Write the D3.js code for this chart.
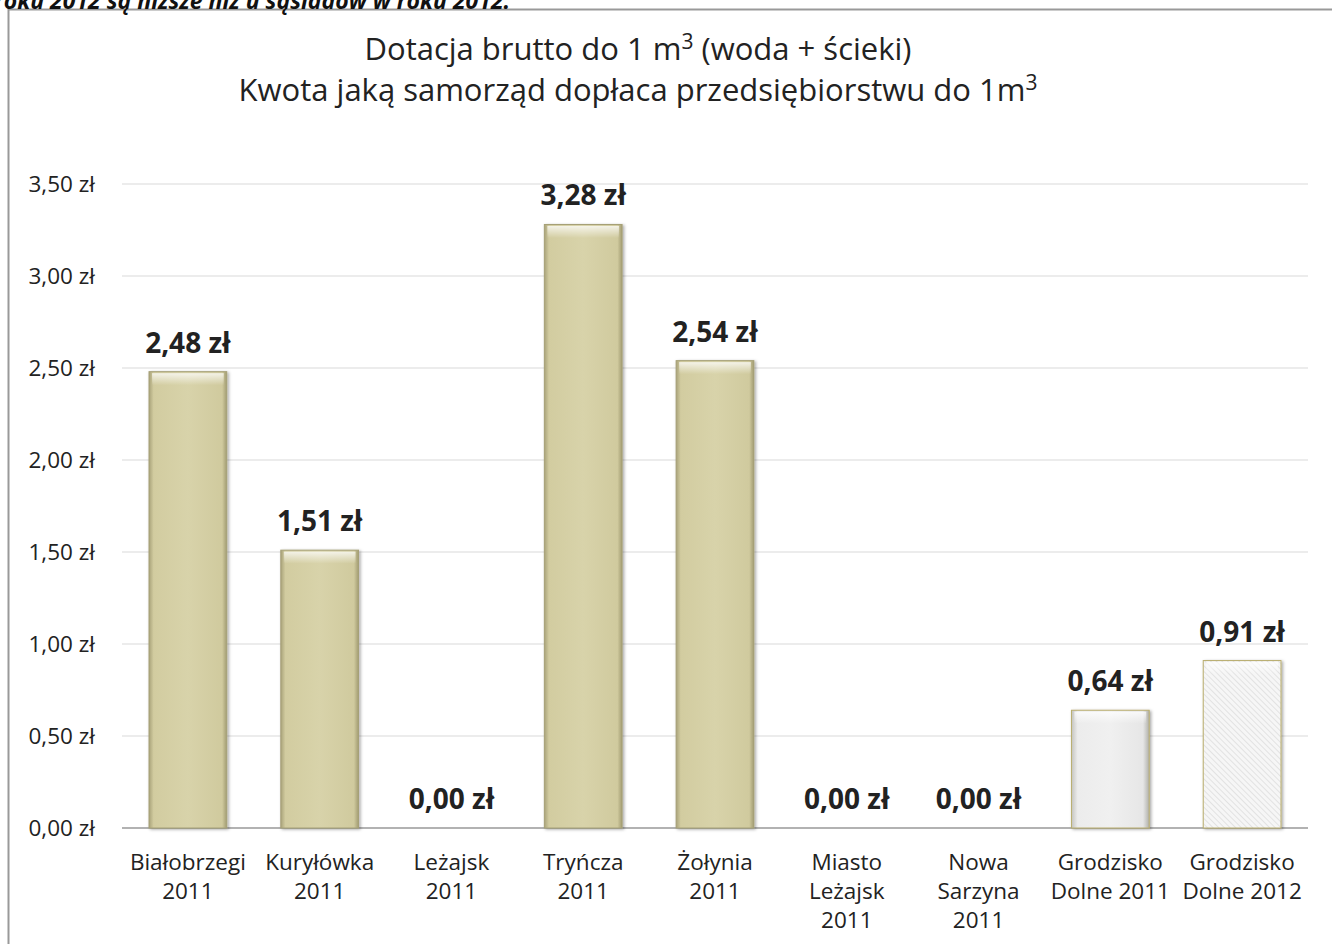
<!DOCTYPE html>
<html>
<head>
<meta charset="utf-8">
<script src="https://cdn.jsdelivr.net/npm/d3@7"></script>
<style>
  body { margin: 0; background: #fff; }
  text { font-family: "Open Sans", "Noto Sans", sans-serif; fill: #222; }
</style>
</head>
<body>
<div id="canvas"></div>
<script>
// Chart size and plot area
var w = 1332;
var h = 944;
var margin = {top: 184, right: 24, bottom: 116, left: 122};

// Data
var categories = [
  ["Białobrzegi", "2011"],
  ["Kuryłówka", "2011"],
  ["Leżajsk", "2011"],
  ["Tryńcza", "2011"],
  ["Żołynia", "2011"],
  ["Miasto", "Leżajsk", "2011"],
  ["Nowa", "Sarzyna", "2011"],
  ["Grodzisko", "Dolne 2011"],
  ["Grodzisko", "Dolne 2012"]
];
var values = [2.48, 1.51, 0.00, 3.28, 2.54, 0.00, 0.00, 0.64, 0.91];
var barStyles = ["khaki", "khaki", "khaki", "khaki", "khaki", "khaki", "khaki", "gray", "hatch"];
var yTicks = [0, 0.5, 1, 1.5, 2, 2.5, 3, 3.5];

var fmt = v => d3.format(".2f")(v).replace(".", ",") + " zł";

var svg = d3.select("#canvas")
    .append("svg")
    .attr("width", w)
    .attr("height", h);

// gradients / patterns
var defs = svg.append("defs");
var gK = defs.append("linearGradient").attr("id", "gKhaki");
[["0%", "#a9a37a"], ["6%", "#d2cca0"], ["50%", "#d8d3aa"], ["94%", "#d0ca9e"], ["100%", "#a29c72"]]
  .forEach(s => gK.append("stop").attr("offset", s[0]).attr("stop-color", s[1]));
var gG = defs.append("linearGradient").attr("id", "gGray");
[["0%", "#c4c4bf"], ["8%", "#ececec"], ["50%", "#f0f0f0"], ["92%", "#e6e6e6"], ["100%", "#b0b0aa"]]
  .forEach(s => gG.append("stop").attr("offset", s[0]).attr("stop-color", s[1]));
var gTop = defs.append("linearGradient").attr("id", "gTop").attr("x1", 0).attr("y1", 0).attr("x2", 0).attr("y2", 1);
[["0%", "#ffffff", 0.75], ["100%", "#ffffff", 0]]
  .forEach(s => gTop.append("stop").attr("offset", s[0]).attr("stop-color", s[1]).attr("stop-opacity", s[2]));
var pat = defs.append("pattern").attr("id", "pHatch")
    .attr("width", 4).attr("height", 4)
    .attr("patternUnits", "userSpaceOnUse")
    .attr("patternTransform", "rotate(-45)");
pat.append("rect").attr("width", 4).attr("height", 4).attr("fill", "#f6f6f6");
pat.append("line").attr("x1", 0).attr("y1", 0).attr("x2", 0).attr("y2", 4)
    .attr("stroke", "#dcdcdc").attr("stroke-width", 1.5);
var sh = defs.append("filter").attr("id", "shadow").attr("x", "-20%").attr("y", "-5%").attr("width", "140%").attr("height", "110%");
sh.append("feDropShadow").attr("dx", 1.5).attr("dy", 1).attr("stdDeviation", 1.5).attr("flood-color", "#000").attr("flood-opacity", 0.35);

// outer frame
svg.append("rect")
    .attr("x", 8.5).attr("y", 9.5)
    .attr("width", w + 20).attr("height", h + 20)
    .attr("fill", "none")
    .attr("stroke", "#999")
    .attr("stroke-width", 2);

// heading cut at top of the picture
svg.append("text")
    .attr("x", -6).attr("y", 9)
    .style("font-weight", "bold").style("font-style", "italic")
    .style("font-size", "23px")
    .style("fill", "#111")
    .text("roku 2012 są niższe niż u sąsiadów w roku 2012.");

// title
var title = svg.append("text")
    .attr("text-anchor", "middle")
    .style("font-size", "31px")
    .style("fill", "#222");
var t1 = title.append("tspan").attr("x", 638).attr("y", 60);
t1.append("tspan").text("Dotacja brutto do 1 m");
t1.append("tspan").attr("dy", -11).style("font-size", "21px").text("3");
t1.append("tspan").attr("dy", 11).text(" (woda + ścieki)");
var t2 = title.append("tspan").attr("x", 638).attr("y", 101);
t2.append("tspan").text("Kwota jaką samorząd dopłaca przedsiębiorstwu do 1m");
t2.append("tspan").attr("dy", -11).style("font-size", "21px").text("3");

// scales
var x = d3.scaleBand()
    .domain(d3.range(categories.length))
    .range([margin.left, w - margin.right])
    .paddingInner(0.41)
    .paddingOuter(0.205);

var y = d3.scaleLinear()
    .domain([0, 3.5])
    .range([h - margin.bottom, margin.top]);

// gridlines
svg.append("g")
    .selectAll("line")
    .data(yTicks)
    .join("line")
    .attr("x1", margin.left).attr("x2", w - margin.right)
    .attr("y1", d => y(d)).attr("y2", d => y(d))
    .attr("stroke", d => d === 0 ? "#999" : "#d9d9d9")
    .attr("stroke-width", d => d === 0 ? 1.5 : 1.2);

// y axis
var yAxis = svg.append("g")
    .attr("transform", `translate(${margin.left - 27},0)`)
    .call(d3.axisLeft(y).tickValues(yTicks).tickFormat(fmt).tickSize(0));
yAxis.select(".domain").remove();
yAxis.selectAll("text")
    .style("font-size", "22.5px")
    .style("font-family", "'Open Sans', sans-serif")
    .attr("fill", "#222")
    .attr("x", 0);

// bars
var fills = {khaki: "url(#gKhaki)", gray: "url(#gGray)", hatch: "url(#pHatch)"};
var strokes = {khaki: "#a6a076", gray: "#b9ad6e", hatch: "#b9ad6e"};
var barData = values.map((v, i) => ({v: v, i: i})).filter(d => d.v > 0);
svg.append("g")
    .selectAll("rect")
    .data(barData)
    .join("rect")
    .attr("x", d => x(d.i))
    .attr("y", d => y(d.v))
    .attr("width", x.bandwidth())
    .attr("height", d => y(0) - y(d.v))
    .attr("fill", d => fills[barStyles[d.i]])
    .attr("stroke", d => strokes[barStyles[d.i]])
    .attr("stroke-width", 1)
    .attr("filter", "url(#shadow)");

// bevel highlight at top
svg.append("g")
    .selectAll("rect")
    .data(barData)
    .join("rect")
    .attr("x", d => x(d.i) + 3)
    .attr("y", d => y(d.v) + 1.5)
    .attr("width", x.bandwidth() - 6)
    .attr("height", 12)
    .attr("fill", "url(#gTop)");

// value labels
svg.append("g")
    .selectAll("text")
    .data(values)
    .join("text")
    .attr("x", (d, i) => x(i) + x.bandwidth() / 2)
    .attr("y", d => y(d) - 19)
    .attr("text-anchor", "middle")
    .style("font-size", "28px")
    .style("font-weight", "bold")
    .style("fill", "#222")
    .text(fmt);

// category labels
svg.append("g")
    .selectAll("text")
    .data(categories)
    .join("text")
    .attr("x", (d, i) => x(i) + x.bandwidth() / 2)
    .attr("y", h - margin.bottom + 42)
    .attr("text-anchor", "middle")
    .style("font-size", "22.5px")
    .each(function(d, i) {
        var t = d3.select(this);
        d.forEach((line, k) => {
            t.append("tspan")
                .attr("x", x(i) + x.bandwidth() / 2)
                .attr("dy", k === 0 ? 0 : 29)
                .text(line);
        });
    });
</script>
</body>
</html>
